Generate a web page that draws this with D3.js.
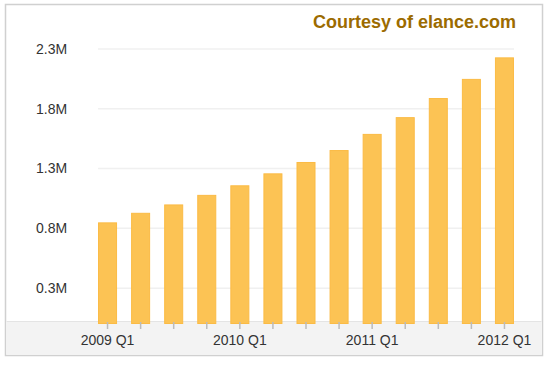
<!DOCTYPE html>
<html>
<head>
<meta charset="utf-8">
<script src="https://cdn.jsdelivr.net/npm/d3@7"></script>
<style>
  body { margin: 0; background: #fff; }
  text { font-family: Arial, "Liberation Sans", sans-serif; }
</style>
</head>
<body>
<div id="vis"></div>
<script>
const FRAME_WIDTH = 550;
const FRAME_HEIGHT = 365;

// quarters, values in millions
const quarters = ["2009 Q1", "2009 Q2", "2009 Q3", "2009 Q4",
                  "2010 Q1", "2010 Q2", "2010 Q3", "2010 Q4",
                  "2011 Q1", "2011 Q2", "2011 Q3", "2011 Q4",
                  "2012 Q1"];
const values = [0.85, 0.93, 1.0, 1.08, 1.16, 1.26, 1.355, 1.455, 1.59, 1.73, 1.89, 2.05, 2.23];
const yTicks = [0.3, 0.8, 1.3, 1.8, 2.3];
const xLabels = ["2009 Q1", "2010 Q1", "2011 Q1", "2012 Q1"];

const svg = d3.select("#vis")
  .append("svg")
    .attr("width", FRAME_WIDTH)
    .attr("height", FRAME_HEIGHT);

// panel
svg.append("rect")
  .attr("x", 5.5).attr("y", 4.5)
  .attr("width", 537).attr("height", 351)
  .attr("fill", "#fff")
  .attr("stroke", "#d0d0d0")
  .attr("stroke-width", 1.5);

// gray band under the axis
svg.append("rect")
  .attr("x", 6.5).attr("y", 321)
  .attr("width", 535).attr("height", 34)
  .attr("fill", "#f3f3f3");
svg.append("line")
  .attr("x1", 6.5).attr("x2", 541.5)
  .attr("y1", 321.5).attr("y2", 321.5)
  .attr("stroke", "#e4e4e4");

svg.append("text")
  .attr("x", 516).attr("y", 28)
  .attr("text-anchor", "end")
  .attr("font-size", 18)
  .attr("font-weight", "bold")
  .attr("fill", "#9c6b00")
  .text("Courtesy of elance.com");

const x = d3.scaleBand()
  .domain(quarters)
  .range([91, 521])
  .paddingInner(0.425)
  .paddingOuter(0.2125);

const y = d3.scaleLinear()
  .domain([0, 2.3])
  .range([324, 49]);

// gridlines
svg.selectAll(".grid")
  .data(yTicks)
  .enter()
  .append("line")
    .attr("x1", x(quarters[0]))
    .attr("x2", x(quarters[quarters.length - 1]) + x.bandwidth())
    .attr("y1", d => y(d))
    .attr("y2", d => y(d))
    .attr("stroke", "#f0f0f0")
    .attr("stroke-width", 1.5);

svg.selectAll(".ylab")
  .data(yTicks)
  .enter()
  .append("text")
    .attr("x", 36)
    .attr("y", d => y(d))
    .attr("dy", "0.35em")
    .attr("font-size", 14)
    .attr("fill", "#333")
    .text(d => d + "M");

// Bars
svg.selectAll(".bar")
  .data(values)
  .enter()
  .append("rect")
    .attr("x", (d, i) => x(quarters[i]) + 0.5)
    .attr("y", d => y(d) + 0.5)
    .attr("width", x.bandwidth() - 1)
    .attr("height", d => y(0) - y(d) - 1)
    .attr("fill", "#fcc354")
    .attr("stroke", "#fbbb45")
    .attr("stroke-width", 1);

// ticks
svg.selectAll(".tick")
  .data(quarters)
  .enter()
  .append("line")
    .attr("x1", d => x(d) + x.bandwidth() / 2)
    .attr("x2", d => x(d) + x.bandwidth() / 2)
    .attr("y1", 322)
    .attr("y2", 329)
    .attr("stroke", "#bbbbbb")
    .attr("stroke-width", 1.5);

svg.selectAll(".xlab")
  .data(xLabels)
  .enter()
  .append("text")
    .attr("x", d => x(d) + x.bandwidth() / 2)
    .attr("y", 345)
    .attr("text-anchor", "middle")
    .attr("font-size", 14)
    .attr("fill", "#333")
    .text(d => d);
</script>
</body>
</html>
